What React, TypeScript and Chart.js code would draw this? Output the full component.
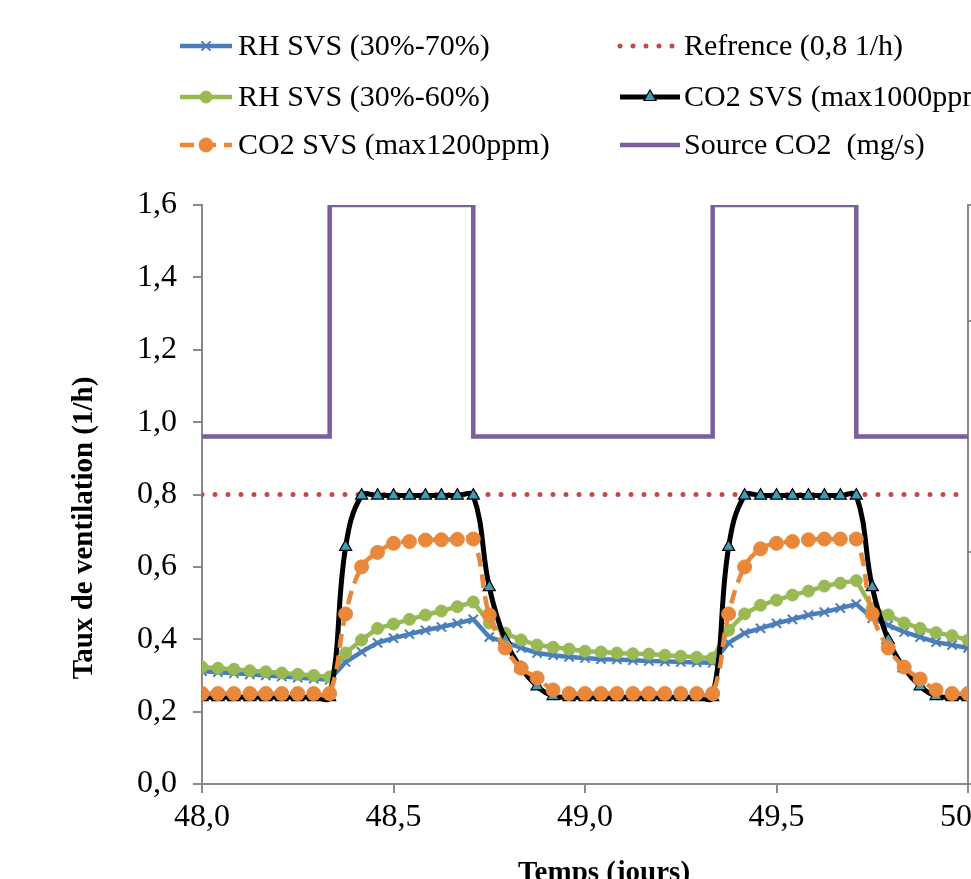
import React, { useEffect, useRef } from "react";
import { Chart, registerables } from "chart.js";

Chart.register(...registerables);

// ---- data (hourly samples from day 48,0 to day 50,0) ----
const START_DAY = 48;
const STEPS_PER_DAY = 24;

const rhSvs70 = [
  0.312, 0.309, 0.306, 0.303, 0.3, 0.297, 0.294, 0.291, 0.288,
  0.337, 0.365, 0.39, 0.403, 0.414, 0.425, 0.434, 0.444, 0.455,
  0.406, 0.392, 0.376, 0.362, 0.356, 0.351, 0.348, 0.345, 0.344, 0.342, 0.34, 0.339, 0.337, 0.336, 0.335,
  0.39, 0.417, 0.43, 0.444, 0.455, 0.467, 0.475, 0.486, 0.497,
  0.458, 0.439, 0.42, 0.406, 0.392, 0.384, 0.376,
];
const rhSvs60 = [
  0.323, 0.32, 0.317, 0.313, 0.31, 0.307, 0.303, 0.3, 0.296,
  0.362, 0.398, 0.43, 0.442, 0.455, 0.467, 0.478, 0.49, 0.503,
  0.445, 0.417, 0.398, 0.384, 0.378, 0.373, 0.367, 0.365, 0.362, 0.36, 0.359, 0.356, 0.353, 0.35, 0.348,
  0.425, 0.47, 0.494, 0.508, 0.522, 0.533, 0.547, 0.555, 0.562,
  0.486, 0.467, 0.445, 0.43, 0.418, 0.41, 0.398,
];
const co2Svs1000 = [
  0.24, 0.24, 0.24, 0.24, 0.24, 0.24, 0.24, 0.24, 0.24,
  0.655, 0.797, 0.797, 0.797, 0.797, 0.797, 0.797, 0.797, 0.797,
  0.544, 0.398, 0.32, 0.27, 0.243, 0.24, 0.24, 0.24, 0.24, 0.24, 0.24, 0.24, 0.24, 0.24, 0.24,
  0.655, 0.797, 0.797, 0.797, 0.797, 0.797, 0.797, 0.797, 0.797,
  0.544, 0.398, 0.32, 0.27, 0.243, 0.24, 0.24,
];
const co2Svs1200 = [
  0.25, 0.25, 0.25, 0.25, 0.25, 0.25, 0.25, 0.25, 0.25,
  0.47, 0.6, 0.64, 0.665, 0.67, 0.674, 0.675, 0.676, 0.677,
  0.467, 0.376, 0.32, 0.293, 0.26, 0.25, 0.25, 0.25, 0.25, 0.25, 0.25, 0.25, 0.25, 0.25, 0.25,
  0.47, 0.6, 0.65, 0.665, 0.67, 0.675, 0.677, 0.677, 0.677,
  0.47, 0.376, 0.323, 0.29, 0.26, 0.25, 0.25,
];
const sourceCo2 = [
  0.96, 0.96, 0.96, 0.96, 0.96, 0.96, 0.96, 0.96,
  1.6, 1.6, 1.6, 1.6, 1.6, 1.6, 1.6, 1.6, 1.6,
  0.96, 0.96, 0.96, 0.96, 0.96, 0.96, 0.96, 0.96, 0.96, 0.96, 0.96, 0.96, 0.96, 0.96, 0.96,
  1.6, 1.6, 1.6, 1.6, 1.6, 1.6, 1.6, 1.6, 1.6,
  0.96, 0.96, 0.96, 0.96, 0.96, 0.96, 0.96, 0.96,
];
const referenceX = [48, 50];
const referenceY = [0.8, 0.8];

const labels = {
  rh70: "RH SVS (30%-70%)",
  ref: "Refrence (0,8 1/h)",
  rh60: "RH SVS (30%-60%)",
  co1000: "CO2 SVS (max1000ppm)",
  co1200: "CO2 SVS (max1200ppm)",
  source: "Source CO2  (mg/s)",
};
const yTitle = "Taux de ventilation (1/h)";
const xTitle = "Temps (jours)";

const FONT = "'Liberation Serif', 'Times New Roman', serif";
const AXIS = "#898989";

const times = rhSvs70.map((_, i) => START_DAY + i / STEPS_PER_DAY);
const toXY = (arr: number[]) => arr.map((v, i) => ({ x: times[i], y: v }));
const fmt = (v: number) => Number(v).toFixed(1).replace(".", ",");

function drawMarker(ctx: CanvasRenderingContext2D, style: string, x: number, y: number, r: number, fill: string, stroke: string, lw: number) {
  ctx.save();
  ctx.setLineDash([]);
  ctx.fillStyle = fill;
  ctx.strokeStyle = stroke;
  ctx.lineWidth = lw;
  ctx.beginPath();
  if (style === "circle") {
    ctx.arc(x, y, r, 0, Math.PI * 2);
    ctx.fill();
    ctx.stroke();
  } else if (style === "triangle") {
    ctx.moveTo(x, y - r);
    ctx.lineTo(x + 0.866 * r, y + 0.5 * r);
    ctx.lineTo(x - 0.866 * r, y + 0.5 * r);
    ctx.closePath();
    ctx.fill();
    ctx.stroke();
  } else if (style === "crossRot") {
    const d = r * 0.7071;
    ctx.moveTo(x - d, y - d);
    ctx.lineTo(x + d, y + d);
    ctx.moveTo(x + d, y - d);
    ctx.lineTo(x - d, y + d);
    ctx.stroke();
  }
  ctx.restore();
}

// legend placement: [datasetIndex, column, row]
const legendLayout: [number, number, number][] = [
  [0, 0, 0],
  [4, 1, 0],
  [1, 0, 1],
  [2, 1, 1],
  [3, 0, 2],
  [5, 1, 2],
];

const legendPlugin = {
  id: "customLegend",
  afterDraw(chart: any) {
    const ctx: CanvasRenderingContext2D = chart.ctx;
    const rows = [46, 97, 145];
    const cols = [
      { x0: 180, x1: 232, tx: 238 },
      { x0: 620, x1: 680, tx: 684 },
    ];
    legendLayout.forEach(([di, c, r]) => {
      const ds = chart.data.datasets[di];
      const y = rows[r];
      const col = cols[c];
      ctx.save();
      ctx.strokeStyle = ds.borderColor;
      ctx.lineWidth = ds.borderWidth;
      ctx.lineCap = ds.borderCapStyle || "butt";
      ctx.setLineDash(ds.borderDash || []);
      ctx.beginPath();
      ctx.moveTo(col.x0, y);
      ctx.lineTo(col.x1, y);
      ctx.stroke();
      ctx.restore();
      if (ds.pointRadius > 0) {
        drawMarker(ctx, ds.pointStyle, (col.x0 + col.x1) / 2, y, ds.pointRadius, ds.pointBackgroundColor, ds.pointBorderColor, ds.pointBorderWidth);
      }
      ctx.save();
      ctx.fillStyle = "#000";
      ctx.font = `30px ${FONT}`;
      ctx.textAlign = "left";
      ctx.textBaseline = "middle";
      ctx.fillText(ds.label, col.tx, y + 1);
      ctx.restore();
    });
  },
};

const titlePlugin = {
  id: "axisTitles",
  afterDraw(chart: any) {
    const ctx: CanvasRenderingContext2D = chart.ctx;
    ctx.save();
    ctx.fillStyle = "#000";
    ctx.font = `bold 29px ${FONT}`;
    ctx.textAlign = "center";
    ctx.textBaseline = "middle";
    ctx.translate(85, 528);
    ctx.rotate(-Math.PI / 2);
    ctx.fillText(yTitle, 0, 0);
    ctx.restore();
    ctx.save();
    ctx.fillStyle = "#000";
    ctx.font = `bold 29px ${FONT}`;
    ctx.textAlign = "center";
    ctx.textBaseline = "alphabetic";
    ctx.fillText(xTitle, 604, 881);
    ctx.restore();
  },
};

const W = 1110;
const H = 900;

export default function App() {
  const ref = useRef<HTMLCanvasElement | null>(null);
  useEffect(() => {
    if (!ref.current) return;
    const chart = new Chart(ref.current, {
      type: "line",
      data: {
        datasets: [
          {
            label: labels.rh70,
            data: toXY(rhSvs70),
            borderColor: "#4A7EBB",
            borderWidth: 4.5,
            tension: 0,
            pointStyle: "crossRot",
            pointRadius: 6.5,
            pointBackgroundColor: "#4A7EBB",
            pointBorderColor: "#4A7EBB",
            pointBorderWidth: 2,
            order: 3,
          },
          {
            label: labels.rh60,
            data: toXY(rhSvs60),
            borderColor: "#98B954",
            borderWidth: 4.5,
            tension: 0,
            pointStyle: "circle",
            pointRadius: 6,
            pointBackgroundColor: "#98B954",
            pointBorderColor: "#98B954",
            pointBorderWidth: 1,
            order: 2,
          },
          {
            label: labels.co1000,
            data: toXY(co2Svs1000),
            borderColor: "#000000",
            borderWidth: 5,
            tension: 0.4,
            pointStyle: "triangle",
            pointRadius: 7,
            pointBackgroundColor: "#3B9DBB",
            pointBorderColor: "#000000",
            pointBorderWidth: 1.2,
            order: 1,
          },
          {
            label: labels.co1200,
            data: toXY(co2Svs1200),
            borderColor: "#E9883A",
            borderWidth: 4.5,
            borderDash: [14, 8],
            tension: 0.4,
            pointStyle: "circle",
            pointRadius: 7,
            pointBackgroundColor: "#E9883A",
            pointBorderColor: "#E9883A",
            pointBorderWidth: 1,
            order: 0,
          },
          {
            label: labels.ref,
            data: referenceX.map((x, i) => ({ x, y: referenceY[i] })),
            borderColor: "#BE4B48",
            borderWidth: 5,
            borderDash: [0, 13],
            borderCapStyle: "round",
            pointRadius: 0,
            pointStyle: "circle",
            order: 4,
          },
          {
            label: labels.source,
            data: toXY(sourceCo2),
            borderColor: "#7A5E9E",
            borderWidth: 4.5,
            stepped: "before",
            pointRadius: 0,
            pointStyle: "circle",
            order: 5,
          },
        ] as any,
      },
      options: {
        responsive: false,
        animation: false,
        devicePixelRatio: 1,
        layout: { padding: { top: 205, left: 0, right: 0, bottom: 0 } },
        plugins: {
          legend: { display: false },
          tooltip: { enabled: false },
        },
        scales: {
          x: {
            type: "linear",
            min: 48,
            max: 50,
            afterFit: (s: any) => {
              s.height = H - 784;
            },
            border: { color: AXIS, width: 2 },
            grid: { drawOnChartArea: false, drawTicks: true, tickLength: 9, tickColor: AXIS, lineWidth: 2 },
            ticks: {
              stepSize: 0.5,
              padding: 5,
              color: "#000",
              font: { family: FONT, size: 32 },
              maxRotation: 0,
              callback: (v: any) => fmt(v),
            },
          },
          y: {
            type: "linear",
            position: "left",
            min: 0,
            max: 1.6,
            afterFit: (s: any) => {
              s.width = 202;
            },
            border: { color: AXIS, width: 2 },
            grid: { drawOnChartArea: false, drawTicks: true, tickLength: 9, tickColor: AXIS, lineWidth: 2 },
            ticks: {
              stepSize: 0.2,
              padding: 16,
              color: "#000",
              font: { family: FONT, size: 32 },
              callback: (v: any) => fmt(v),
            },
          },
          y2: {
            type: "linear",
            position: "right",
            min: 0,
            max: 5,
            afterFit: (s: any) => {
              s.width = W - 968;
            },
            border: { color: AXIS, width: 2 },
            grid: { drawOnChartArea: false, drawTicks: true, tickLength: 9, tickColor: AXIS, lineWidth: 2 },
            ticks: {
              stepSize: 2,
              padding: 17,
              color: "#000",
              font: { family: FONT, size: 32 },
            },
          },
        },
      } as any,
      plugins: [legendPlugin, titlePlugin],
    });
    return () => chart.destroy();
  }, []);

  return (
    <div
      style={{
        position: "fixed",
        left: 0,
        top: 0,
        width: 971,
        height: 879,
        overflow: "hidden",
        background: "#fff",
      }}
    >
      <canvas ref={ref} width={W} height={H} style={{ display: "block", width: W, height: H }} />
    </div>
  );
}
